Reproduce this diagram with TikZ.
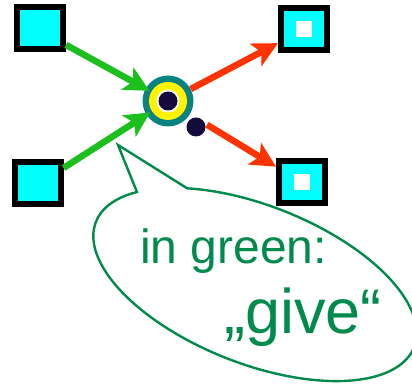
\documentclass[tikz,border=0pt]{standalone}
\usepackage{fontspec}
\setmainfont{Liberation Sans}
\usetikzlibrary{arrows.meta}

\definecolor{sqcyan}{HTML}{00FFFF}
\definecolor{hubteal}{HTML}{0A8282}
\definecolor{hubnavy}{HTML}{140A3C}
\definecolor{givegreen}{HTML}{1CC01C}
\definecolor{takered}{HTML}{FF3300}
\definecolor{notegreen}{HTML}{008A4C}

\begin{document}
\begin{tikzpicture}[x=1pt,y=1pt,
  port/.style={draw=black, line width=6pt, fill=sqcyan,
    minimum width=46pt, minimum height=42pt, inner sep=0pt},
  hole/.style={fill=white},
  givearrow/.style={draw=givegreen, line width=6.5pt,
    -{Stealth[length=25pt,width=25pt,inset=6pt]}},
  takearrow/.style={draw=takered, line width=6.5pt,
    -{Stealth[length=25pt,width=25pt,inset=6pt]}},
  note/.style={draw=notegreen, line width=2.4pt, line join=miter},
  notetext/.style={text=notegreen, inner sep=0pt, anchor=base west},
  dot/.style={circle, fill=hubnavy, minimum size=19pt, inner sep=0pt}]

\useasboundingbox (0,0) rectangle (412,383);

% speech bubble: rotated ellipse with a wedge pointing up-left
\coordinate (tip) at (118,238);
\begin{scope}[shift={(255,98.5)}, rotate=-21.5]
  \draw[note] (125.1:171pt and 79pt)
    arc[start angle=125.1, end angle=-212.8, x radius=171pt, y radius=79pt]
    -- (tip) -- cycle;
\end{scope}

% the four ports
\node[port] (tl) at (40,355) {};
\node[port] (bl) at (37.5,200) {};
\node[port] (tr) at (304,353.5) {};
\node[port] (br) at (302,200.5) {};
\fill[hole] ([shift={(-8,-8)}]tr.center) rectangle ([shift={(8,8)}]tr.center);
\fill[hole] ([shift={(-8,-8)}]br.center) rectangle ([shift={(8,8)}]br.center);

% central hub
\node[circle, fill=hubteal, minimum size=51pt, inner sep=0pt] (hub) at (168,282) {};
\fill[yellow] (hub.center) circle (19);
\fill[white] (hub.center) circle (11.5);
\node[dot] (core) at (hub.center) {};
\node[dot] (side) at (196,256) {};

% incoming (green) and outgoing (red) arrows
\draw[givearrow, shorten >=-4.5pt] (tl.-33) -- (hub);
\draw[givearrow, shorten >=-4.5pt] (bl.30) -- (hub);
\draw[takearrow] (hub) -- (tr);
\draw[takearrow, shorten <=20pt] (hub) -- (br);

% bubble text
\node[notetext, font=\fontsize{48}{48}\selectfont] (l1) at (140,120) {in green:};
\node[notetext, font=\fontsize{63}{63}\selectfont] (l2) at (224,50) {„give“};
\end{tikzpicture}
\end{document}
